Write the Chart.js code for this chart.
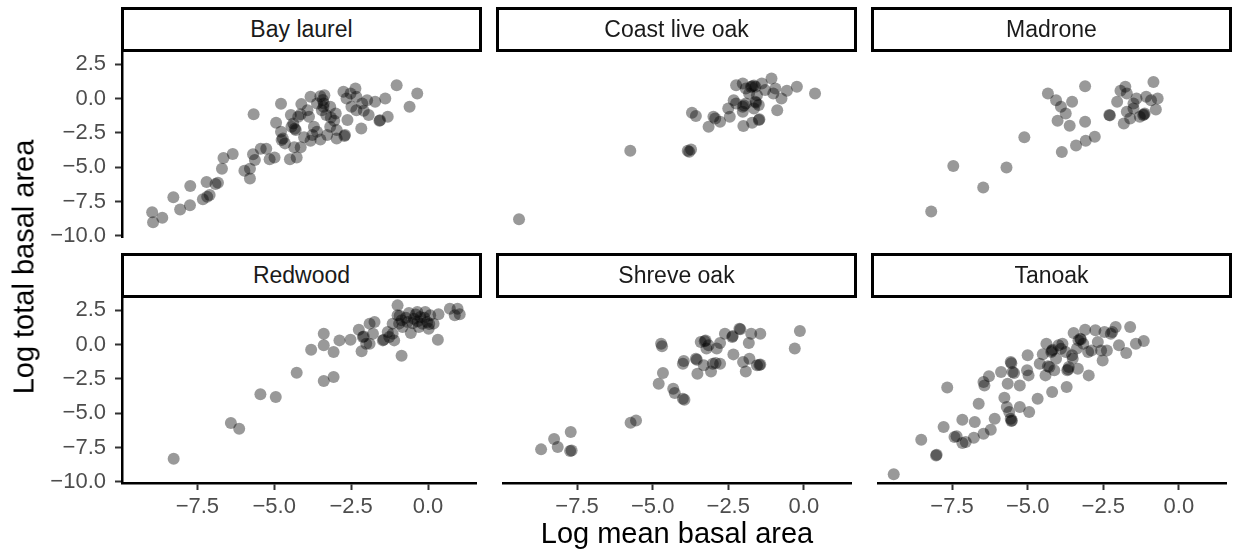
<!DOCTYPE html>
<html>
<head>
<meta charset="utf-8">
<script src="https://cdn.jsdelivr.net/npm/chart.js@4.4.1/dist/chart.umd.min.js"></script>
<style>
  body { margin: 0; background: #fff; width: 1235px; height: 554px; position: relative; overflow: hidden;
         font-family: "Liberation Sans", Arial, Helvetica, sans-serif; }
  canvas { position: absolute; }
  .strip { position: absolute; box-sizing: border-box; border: 3px solid #000; background: #fff;
           width: 361px; height: 45px; line-height: 39px; text-align: center; font-size: 23px; color: #1a1a1a; }
  .title { position: absolute; font-size: 29px; line-height: 29px; height: 29px; color: #000; text-align: center; white-space: nowrap; }
</style>
</head>
<body>
<script>
// log(mean basal area), log(total basal area) per plot, one list per species
const bayLaurel = [
  [-8.97,-8.28],[-8.94,-9.01],[-8.64,-8.67],[-8.28,-7.19],[-8.06,-8.08],[-7.74,-7.77],[-7.73,-6.36],
  [-7.32,-7.33],[-7.18,-7.14],[-7.10,-7.02],[-7.20,-6.07],[-6.91,-6.22],[-6.83,-6.12],[-6.70,-5.10],
  [-6.65,-4.33],[-6.35,-4.04],[-5.97,-5.25],[-5.79,-5.10],[-5.79,-5.81],[-5.69,-4.06],[-5.63,-4.47],
  [-5.44,-3.65],[-5.26,-3.65],[-5.15,-4.42],[-4.99,-4.28],[-5.67,-1.13],[-4.78,-0.38],[-4.94,-1.76],
  [-4.78,-2.41],[-4.76,-3.02],[-4.72,-2.90],[-4.65,-3.26],[-4.49,-4.42],[-4.27,-4.28],[-4.35,-3.55],
  [-4.14,-3.55],[-4.46,-1.20],[-4.38,-1.81],[-4.30,-2.29],[-4.33,-2.20],[-4.22,-1.32],[-4.12,-0.40],
  [-3.92,-0.84],[-3.82,0.13],[-3.87,-1.32],[-4.03,-2.82],[-3.82,-3.07],[-3.71,-2.05],[-3.61,-2.41],
  [-3.50,-2.97],[-3.28,-2.65],[-2.97,-2.90],[-2.72,-2.73],[-2.70,-2.65],[-3.50,0.18],[-3.37,0.25],
  [-3.39,-0.35],[-3.42,-0.10],[-3.40,-0.60],[-3.45,-0.84],[-3.31,-1.20],[-3.16,-1.37],[-3.05,-1.61],
  [-3.00,-1.08],[-2.97,-2.29],[-2.75,0.50],[-2.65,0.01],[-2.52,0.38],[-2.36,0.74],[-2.33,0.13],
  [-2.14,-0.35],[-2.09,-0.88],[-1.98,-0.11],[-1.93,-1.20],[-1.72,-0.23],[-1.58,-1.61],[-1.56,-1.58],
  [-1.39,0.01],[-1.31,-1.32],[-2.17,-2.17],[-2.62,-1.56],[-1.02,0.98],[-0.35,0.38],[-0.60,-0.59],
  [-3.61,-0.35],[-4.14,-1.13],[-4.44,-2.05],[-3.18,-0.59],[-2.49,-0.59],[-2.33,-0.84],[-3.76,-2.65],
  [-3.18,-2.05]
];
const coastLiveOak = [
  [-9.42,-8.79],[-5.74,-3.79],[-3.84,-3.79],[-3.73,-3.70],[-3.79,-3.87],[-3.70,-1.03],[-3.57,-1.27],
  [-3.15,-2.05],[-2.99,-1.32],[-2.93,-1.44],[-2.77,-1.68],[-2.45,-1.32],[-2.50,-0.72],[-2.32,-0.11],
  [-2.24,0.98],[-2.02,1.10],[-1.92,0.74],[-1.71,0.91],[-1.75,0.85],[-1.65,0.95],[-1.60,0.86],
  [-1.81,0.38],[-2.02,-0.59],[-1.98,-0.50],[-1.92,-0.35],[-2.02,-0.96],[-1.60,-0.23],[-1.58,-0.30],
  [-1.49,-0.47],[-1.55,0.25],[-1.39,1.10],[-1.28,0.62],[-1.07,1.47],[-0.94,0.74],[-1.01,0.38],
  [-0.74,0.01],[-0.56,0.57],[-0.23,0.86],[0.37,0.38],[-0.88,-0.84],[-2.00,-2.00],[-1.71,-1.76],
  [-1.49,-1.56],[-1.47,-1.50],[-2.24,-0.35],[-1.65,-0.72]
];
const madrone = [
  [-8.19,-8.23],[-7.46,-4.91],[-6.47,-6.48],[-5.70,-5.01],[-5.11,-2.82],[-4.33,0.38],[-4.06,-0.11],
  [-3.90,-0.59],[-3.74,-1.08],[-3.53,-0.23],[-4.01,-1.61],[-3.61,-1.98],[-3.10,0.91],[-3.10,-1.68],
  [-3.87,-3.89],[-3.40,-3.41],[-3.08,-3.07],[-2.78,-2.78],[-2.30,-1.20],[-2.28,-1.22],[-2.04,-0.23],
  [-1.93,0.57],[-1.77,0.86],[-1.72,0.38],[-1.82,-1.81],[-1.61,-1.44],[-1.72,-0.96],[-1.50,-0.72],
  [-1.50,-0.35],[-1.40,0.01],[-1.29,-1.32],[-1.18,-1.20],[-1.13,-1.08],[-1.15,-1.15],[-1.08,0.13],
  [-0.92,-0.11],[-0.84,1.22],[-0.70,0.01],[-0.76,-0.79]
];
const redwood = [
  [-8.27,-8.31],[-6.41,-5.71],[-6.14,-6.13],[-5.45,-3.62],[-4.95,-3.82],[-4.27,-2.04],[-3.39,-2.65],
  [-3.07,-2.36],[-3.80,-0.37],[-3.39,-0.05],[-3.39,0.80],[-3.07,-0.54],[-2.88,0.31],[-2.52,0.36],
  [-2.25,1.09],[-2.12,0.56],[-2.09,0.60],[-2.01,0.07],[-2.16,-0.49],[-1.90,1.53],[-1.74,1.65],
  [-1.79,0.80],[-1.47,0.31],[-1.44,0.36],[-1.31,0.92],[-1.15,0.80],[-1.10,0.31],[-0.99,2.86],
  [-0.99,2.14],[-0.86,1.77],[-0.83,1.29],[-0.67,1.65],[-0.56,0.85],[-0.86,-0.81],[-0.35,2.38],
  [-0.25,2.01],[-0.19,1.53],[-0.03,1.65],[0.07,2.14],[-0.09,2.38],[0.18,1.53],[0.34,2.21],
  [0.32,0.36],[0.71,2.62],[0.87,2.14],[1.03,2.21],[0.96,2.62],[-1.26,0.56],[-0.94,1.53],[-0.46,1.89],
  [0.02,1.16],[-0.30,1.29],[-1.15,1.53],[-1.90,0.07],[-0.92,2.10],[-0.72,1.95],[-0.50,1.55],
  [-0.34,1.70],[-0.12,1.95],[0.04,1.50],[-0.62,2.30],[-0.40,2.20]
];
const shreveOak = [
  [-8.69,-7.63],[-8.26,-6.88],[-8.14,-7.46],[-7.71,-6.37],[-7.73,-7.75],[-7.68,-7.71],[-5.73,-5.69],
  [-5.55,-5.52],[-4.72,0.07],[-4.69,-0.12],[-4.66,-2.07],[-4.80,-2.85],[-4.32,-3.21],[-4.27,-3.53],
  [-4.00,-3.94],[-3.95,-4.01],[-4.00,-1.39],[-3.97,-1.20],[-3.57,-1.03],[-3.54,-1.10],[-3.52,-2.12],
  [-3.31,-1.51],[-3.41,0.19],[-3.25,0.31],[-3.28,0.25],[-3.22,-0.29],[-3.07,-1.95],[-3.01,-1.39],
  [-2.92,-1.34],[-2.77,-1.39],[-2.88,-0.29],[-2.77,0.12],[-2.61,0.80],[-2.37,0.56],[-2.35,0.62],
  [-2.13,1.16],[-2.10,1.12],[-2.33,-0.71],[-2.01,-1.27],[-1.92,-1.95],[-1.80,-1.03],[-1.82,0.12],
  [-1.74,0.80],[-1.44,0.80],[-1.55,-1.51],[-1.44,-1.44],[-1.47,-1.48],[-0.30,-0.29],[-0.13,0.99],
  [-3.15,-0.05]
];
const tanoak = [
  [-9.43,-9.45],[-8.03,-8.07],[-8.01,-8.03],[-8.52,-6.93],[-7.78,-6.00],[-7.66,-3.13],[-7.42,-6.73],
  [-7.35,-6.68],[-7.16,-5.47],[-7.16,-7.17],[-7.05,-7.10],[-6.78,-6.78],[-6.75,-5.64],[-6.62,-4.30],
  [-6.46,-6.49],[-6.22,-6.20],[-6.09,-5.40],[-6.46,-2.72],[-6.43,-2.97],[-6.28,-2.31],[-5.88,-2.00],
  [-5.77,-3.87],[-5.66,-2.85],[-5.69,-4.55],[-5.61,-4.91],[-5.56,-5.40],[-5.54,-5.57],[-5.52,-5.52],
  [-5.56,-1.27],[-5.54,-1.35],[-5.50,-2.00],[-5.45,-2.07],[-5.26,-2.97],[-5.26,-4.55],[-4.95,-4.91],
  [-5.00,-0.78],[-4.97,-2.24],[-4.67,-3.94],[-4.60,-1.39],[-4.41,-2.24],[-4.33,-1.58],[-4.19,-3.45],
  [-4.22,-0.54],[-4.17,-0.37],[-4.20,-0.45],[-4.28,-1.63],[-4.12,-1.87],[-4.06,-1.02],[-3.98,-0.05],
  [-3.85,0.07],[-3.74,-0.54],[-3.69,-1.87],[-3.66,-1.80],[-3.71,-3.09],[-3.64,-1.63],[-3.53,-0.78],
  [-3.48,0.85],[-3.34,-1.75],[-3.37,-0.29],[-3.32,0.31],[-3.26,0.43],[-3.24,0.38],[-3.16,0.07],
  [-3.10,1.09],[-2.98,-2.24],[-3.00,-0.54],[-2.89,-0.42],[-2.76,1.04],[-2.68,0.19],[-2.57,-0.42],
  [-2.52,-1.15],[-2.46,0.92],[-2.38,-0.42],[-2.25,0.80],[-2.20,0.92],[-2.09,1.28],[-1.98,-0.05],
  [-1.74,-0.61],[-1.61,1.28],[-1.42,0.07],[-1.16,0.26],[-4.38,0.07],[-5.02,-1.87],[-3.51,-1.02],
  [-4.50,-0.70],[-3.90,-0.30]
];

const speciesNames = ["Bay laurel", "Coast live oak", "Madrone", "Redwood", "Shreve oak", "Tanoak"];
const speciesData = [bayLaurel, coastLiveOak, madrone, redwood, shreveOak, tanoak];

const xTicks = [-7.5, -5.0, -2.5, 0.0];
const yTicks = [-10.0, -7.5, -5.0, -2.5, 0.0, 2.5];
const xLimits = [-9.95, 1.56];
const yLimits = [-10.08, 3.47];

// panel grid geometry (px)
const colLeft = [122, 497, 872];
const rowTop = [51, 297];
const panelW = 360, panelH = 186;
const yAxisW = 122, xAxisH = 50;
const spare = 15; // room above/below a panel so edge tick labels are not cut

const fontFamily = '"Liberation Sans", Arial, Helvetica, sans-serif';

function fmt(v) {
  return (v < 0 ? "\u2212" : "") + Math.abs(v).toFixed(1);
}

function axis(isX, show) {
  const list = isX ? xTicks : yTicks;
  const lim = isX ? xLimits : yLimits;
  return {
    type: "linear",
    display: show,
    min: lim[0],
    max: lim[1],
    afterBuildTicks: (s) => { s.ticks = list.map((v) => ({ value: v })); },
    // fixed axis size, and no extra chart-area shrinking for edge labels
    afterFit: (s) => {
      s.paddingTop = s.paddingBottom = s.paddingLeft = s.paddingRight = 0;
      if (!show) return;
      if (isX) s.height = xAxisH; else s.width = yAxisW;
    },
    ticks: {
      autoSkip: false,
      maxRotation: 0,
      color: "#4D4D4D",
      padding: isX ? 4 : 9,
      font: { family: fontFamily, size: 22 },
      callback: (v) => fmt(v),
    },
    grid: { drawOnChartArea: false, tickLength: 7, tickWidth: 2, tickColor: "#333333" },
    border: { display: true, color: "#000000", width: 2.5 },
  };
}

function addDiv(cls, text, css) {
  const d = document.createElement("div");
  d.className = cls;
  d.textContent = text;
  Object.assign(d.style, css);
  document.body.appendChild(d);
  return d;
}

speciesData.forEach((pts, i) => {
  const col = i % 3;
  const row = Math.floor(i / 3);
  const showY = col === 0;
  const showX = row === 1;

  const cv = document.createElement("canvas");
  const left = showY ? colLeft[col] - yAxisW : colLeft[col];
  const w = panelW + (showY ? yAxisW : 0);
  const padBottom = showX ? 0 : spare;
  const h = spare + panelH + (showX ? xAxisH : padBottom);
  cv.width = w;
  cv.height = h;
  cv.style.left = left + "px";
  cv.style.top = (rowTop[row] - spare) + "px";
  cv.style.width = w + "px";
  cv.style.height = h + "px";
  document.body.appendChild(cv);

  new Chart(cv, {
    type: "scatter",
    data: {
      datasets: [{
        data: pts.map((p) => ({ x: p[0], y: p[1] })),
        pointRadius: 6,
        pointHoverRadius: 6,
        backgroundColor: "rgba(0,0,0,0.4)",
        borderWidth: 0,
      }],
    },
    options: {
      responsive: false,
      animation: false,
      devicePixelRatio: 1,
      events: [],
      layout: { padding: { top: spare, bottom: padBottom, left: 0, right: 0 } },
      plugins: { legend: { display: false }, tooltip: { enabled: false } },
      scales: { x: axis(true, showX), y: axis(false, showY) },
    },
  });
});

// facet strips
speciesNames.forEach((name, i) => {
  const col = i % 3;
  const row = Math.floor(i / 3);
  addDiv("strip", name, { left: (colLeft[col] - 1) + "px", top: (rowTop[row] - 44) + "px" });
});

// axis titles
addDiv("title", "Log mean basal area", { left: "122px", width: "1110px", top: "519px" });
addDiv("title", "Log total basal area", {
  left: "24px", top: "267px", width: "400px",
  transform: "translate(-50%, -50%) rotate(-90deg)",
});
</script>
</body>
</html>
